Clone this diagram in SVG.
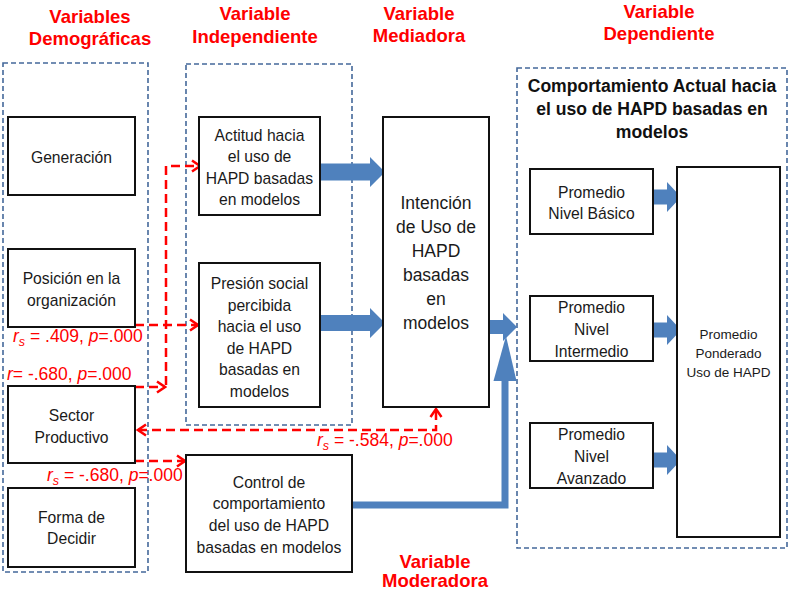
<svg xmlns="http://www.w3.org/2000/svg" width="789" height="594" viewBox="0 0 789 594">
<style>
.grp{fill:none;stroke:#44689a;stroke-width:1.6;stroke-dasharray:5 3}
.box{fill:#fff;stroke:#111;stroke-width:2}
.t{font-family:"Liberation Sans",Arial,sans-serif;font-size:15.7px;fill:#1a1a1a;text-anchor:middle}
.big{font-size:17.5px}
.sm{font-size:13.5px}
.hd{font-family:"Liberation Sans",Arial,sans-serif;font-size:18.5px;font-weight:bold;fill:#ff0000;text-anchor:middle}
.hb{font-family:"Liberation Sans",Arial,sans-serif;font-size:17.6px;font-weight:bold;fill:#111;text-anchor:middle}
.st{font-family:"Liberation Sans",Arial,sans-serif;font-size:17.5px;fill:#ff0000}
.it{font-style:italic}
.blue{fill:#4f81bd}
.bl{fill:none;stroke:#4f81bd;stroke-width:7}
.red{fill:none;stroke:#ff0000;stroke-width:2.5;stroke-dasharray:9 5}
</style>
<defs>
<marker id="ra" markerUnits="userSpaceOnUse" markerWidth="12" markerHeight="14" viewBox="0 0 12 14" refX="10" refY="7" orient="auto-start-reverse">
<path d="M2,1.5 L10,7 L2,12.5" fill="none" stroke="#ff0000" stroke-width="2.5"/>
</marker>
</defs>

<g id="headers">
<text class="hd" x="90" y="23">Variables</text>
<text class="hd" x="90" y="45">Demográficas</text>
<text class="hd" x="255" y="20">Variable</text>
<text class="hd" x="255" y="43">Independiente</text>
<text class="hd" x="419" y="20">Variable</text>
<text class="hd" x="419" y="42">Mediadora</text>
<text class="hd" x="659" y="18">Variable</text>
<text class="hd" x="659" y="40">Dependiente</text>
<text class="hd" x="435" y="568">Variable</text>
<text class="hd" x="435" y="587">Moderadora</text>
</g>

<g id="group-demograficas"><rect class="grp" x="3" y="63" width="145" height="509"/></g>
<g id="group-independiente"><rect class="grp" x="186" y="64" width="166" height="361"/></g>
<g id="group-dependiente">
<rect class="grp" x="517" y="68" width="270" height="480"/>
<text class="hb" x="652" y="92">Comportamiento Actual hacia</text>
<text class="hb" x="652" y="115">el uso de HAPD basadas en</text>
<text class="hb" x="652" y="138">modelos</text>
</g>

<g id="connectors">
<polygon class="blue" points="320,163.5 370,163.5 370,157 385,172 370,187 370,180.5 320,180.5"/>
<polygon class="blue" points="320,315 370,315 370,308 385,323 370,338 370,331 320,331"/>
<polygon class="blue" points="489,320 503,320 503,313 517,327 503,341 503,334 489,334"/>
<path class="bl" d="M352,505 H505 V378"/>
<polygon class="blue" points="493.5,381 516.5,381 506,336"/>
<polygon class="blue" points="653,189.5 667,189.5 667,182 681,197 667,212 667,204.5 653,204.5"/>
<polygon class="blue" points="653,322.5 667,322.5 667,315 681,330 667,345 667,337.5 653,337.5"/>
<polygon class="blue" points="653,452.5 667,452.5 667,445 681,460 667,475 667,467.5 653,467.5"/>
<path class="red" d="M135,325 H198" marker-end="url(#ra)"/>
<path class="red" d="M135,387 H165" marker-end="url(#ra)"/>
<path class="red" d="M166,385 V166 H200" marker-end="url(#ra)"/>
<path class="red" d="M138,430 H436 V409" marker-start="url(#ra)" marker-end="url(#ra)"/>
<path class="red" d="M135,461 H185" marker-end="url(#ra)"/>
</g>

<g id="labels">
<text class="st" x="13" y="342"><tspan class="it">r</tspan><tspan class="it" font-size="12.5" dy="4">s</tspan><tspan dy="-4"> = .409, </tspan><tspan class="it">p</tspan>=.000</text>
<text class="st" x="7" y="380"><tspan class="it">r</tspan>= -.680, <tspan class="it">p</tspan>=.000</text>
<text class="st" x="317" y="446"><tspan class="it">r</tspan><tspan class="it" font-size="12.5" dy="4">s</tspan><tspan dy="-4"> = -.584, </tspan><tspan class="it">p</tspan>=.000</text>
<text class="st" x="47" y="481"><tspan class="it">r</tspan><tspan class="it" font-size="12.5" dy="4">s</tspan><tspan dy="-4"> = -.680, </tspan><tspan class="it">p</tspan>=.000</text>
</g>

<g id="generacion"><rect class="box" x="8" y="117" width="127" height="78"/>
<text class="t" x="71.5" y="162.5">Generación</text></g>
<g id="posicion"><rect class="box" x="8" y="249" width="127" height="78"/>
<text class="t" x="71.5" y="283.5">Posición en la</text>
<text class="t" x="71.5" y="305.5">organización</text></g>
<g id="sector"><rect class="box" x="8" y="386" width="127" height="77"/>
<text class="t" x="71.5" y="420.5">Sector</text>
<text class="t" x="71.5" y="442.5">Productivo</text></g>
<g id="forma"><rect class="box" x="8" y="488" width="127" height="79"/>
<text class="t" x="71.5" y="522.5">Forma de</text>
<text class="t" x="71.5" y="543.5">Decidir</text></g>

<g id="actitud"><rect class="box" x="199" y="117" width="121" height="98"/>
<text class="t" x="259.5" y="140.5">Actitud hacia</text>
<text class="t" x="259.5" y="162">el uso de</text>
<text class="t" x="259.5" y="183.5">HAPD basadas</text>
<text class="t" x="259.5" y="205">en modelos</text></g>
<g id="presion"><rect class="box" x="199" y="263" width="121" height="144"/>
<text class="t" x="259.5" y="288.5">Presión social</text>
<text class="t" x="259.5" y="310.5">percibida</text>
<text class="t" x="259.5" y="331.5">hacia el uso</text>
<text class="t" x="259.5" y="353.5">de HAPD</text>
<text class="t" x="259.5" y="374.5">basadas en</text>
<text class="t" x="259.5" y="396.5">modelos</text></g>
<g id="control"><rect class="box" x="186" y="455" width="166" height="117"/>
<text class="t" x="269" y="487.5">Control de</text>
<text class="t" x="269" y="508.5">comportamiento</text>
<text class="t" x="269" y="530.5">del uso de HAPD</text>
<text class="t" x="269" y="552.5">basadas en modelos</text></g>

<g id="intencion"><rect class="box" x="383" y="117" width="106" height="290"/>
<text class="t big" x="436" y="209">Intención</text>
<text class="t big" x="436" y="233">de Uso de</text>
<text class="t big" x="436" y="257">HAPD</text>
<text class="t big" x="436" y="281">basadas</text>
<text class="t big" x="436" y="305">en</text>
<text class="t big" x="436" y="329">modelos</text></g>

<g id="basico"><rect class="box" x="530" y="169" width="123" height="65"/>
<text class="t" x="591.5" y="197.5">Promedio</text>
<text class="t" x="591.5" y="218.5">Nivel Básico</text></g>
<g id="intermedio"><rect class="box" x="530" y="296" width="123" height="65"/>
<text class="t" x="591.5" y="312.5">Promedio</text>
<text class="t" x="591.5" y="334.5">Nivel</text>
<text class="t" x="591.5" y="356.5">Intermedio</text></g>
<g id="avanzado"><rect class="box" x="530" y="423" width="123" height="65"/>
<text class="t" x="591.5" y="439.5">Promedio</text>
<text class="t" x="591.5" y="461.5">Nivel</text>
<text class="t" x="591.5" y="483.5">Avanzado</text></g>
<g id="ponderado"><rect class="box" x="677" y="167" width="103" height="370"/>
<text class="t sm" x="728.5" y="339">Promedio</text>
<text class="t sm" x="728.5" y="358">Ponderado</text>
<text class="t sm" x="728.5" y="377">Uso de HAPD</text></g>
</svg>
